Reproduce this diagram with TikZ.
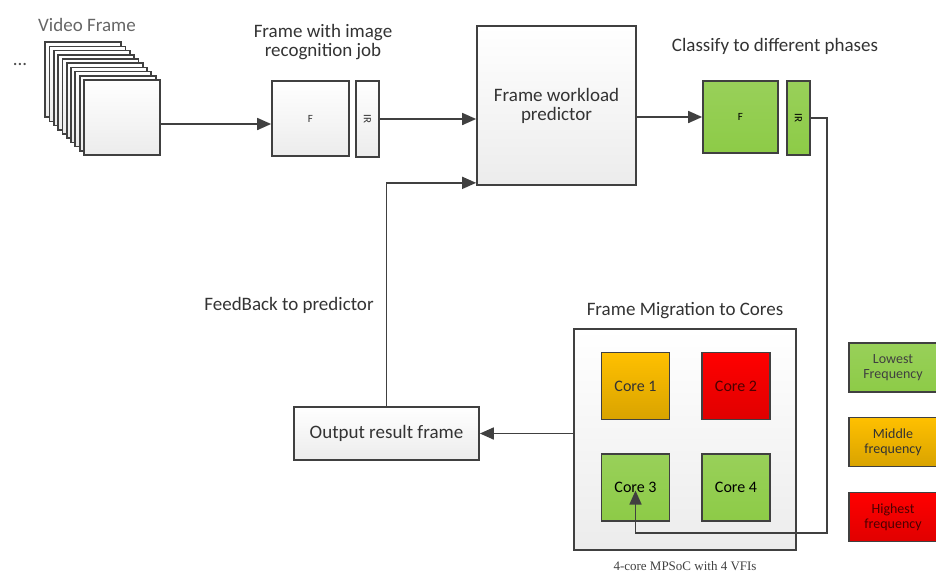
\documentclass[tikz,border=0pt]{standalone}
\usepackage{fontspec}
\setmainfont{Carlito}
\newfontfamily\capfont{Liberation Serif}
\usetikzlibrary{arrows.meta}

\definecolor{linegray}{HTML}{404040}
\definecolor{txtgray}{HTML}{333333}
\definecolor{lowgreen}{HTML}{8DCB47}
\definecolor{midorange}{HTML}{FFC000}
\definecolor{highred}{HTML}{FF0000}

\tikzset{
  box/.style={draw=linegray, line width=1.7pt, top color=white, bottom color=gray!15,
    inner sep=0pt, text=txtgray, align=center},
  frm/.style={box, minimum width=76pt, minimum height=75pt},
  greenbox/.style={box, top color=lowgreen!90, bottom color=lowgreen, text=black},
  orangebox/.style={box, top color=midorange, bottom color=midorange!85!black, text=black!80},
  redbox/.style={box, top color=highred, bottom color=highred!88!black, text=black!70!red},
  core/.style={minimum width=68pt, minimum height=67pt, font=\fontsize{16}{18}\selectfont},
  legend/.style={minimum width=88pt, minimum height=49pt, font=\fontsize{14}{15}\selectfont},
  title/.style={text=txtgray, font=\fontsize{19}{22}\selectfont, align=center},
  arr/.style={draw=linegray, line width=1.7pt, -{Triangle[length=14pt,width=12pt]}},
  ln/.style={draw=linegray, line width=1.7pt}
}

\begin{document}
\begin{tikzpicture}[x=1pt, y=-1pt]
  \useasboundingbox (0,0) rectangle (936,574);

  % input frames
  \node[title, text=black!60] (vtitle) at (87,25) {Video Frame};
  \node[title, text=black!70] (dots) at (20,64) {...};
  \foreach \i in {9,...,1}
    \node[frm] (frame\i) at ({122-4.33*\i},{117.5-4.2*\i}) {};
  \node[frm] (frame0) at (122,117.5) {};

  % frame with job
  \node[title] (jtitle) at (323,42) {Frame with image\\[-3pt]recognition job};
  \node[box, minimum width=77pt, minimum height=75pt, font=\fontsize{11}{12}\selectfont] (fbox) at (310.5,118.5) {F};
  \node[box, minimum width=23pt, minimum height=76pt, font=\fontsize{11}{12}\selectfont] (irbox) at (367.5,119) {\rotatebox{-90}{IR}};

  % predictor
  \node[box, title, minimum width=159pt, minimum height=159pt] (pred) at (556.5,105.5) {Frame workload\\[-3pt]predictor};

  % classified frame
  \node[title] (ctitle) at (775,46) {Classify to different phases};
  \node[greenbox, minimum width=75pt, minimum height=72pt, font=\fontsize{11}{12}\selectfont] (gf) at (740.5,117) {F};
  \node[greenbox, minimum width=23pt, minimum height=74pt, font=\fontsize{11}{12}\selectfont] (gir) at (798.5,118) {\rotatebox{-90}{IR}};

  % cores
  \node[title] (mtitle) at (685,311) {Frame Migration to Cores};
  \node[box, minimum width=222pt, minimum height=221pt] (soc) at (685,439.5) {};
  \node[orangebox, core] (core1) at (635.5,386) {Core 1};
  \node[redbox, core] (core2) at (736,386) {Core 2};
  \node[greenbox, core] (core3) at (635.5,487.5) {Core 3};
  \node[greenbox, core] (core4) at (736,487.5) {Core 4};
  \node[text=black!75, font=\capfont\fontsize{13}{14}\selectfont] (cap) at (685,566) {4-core MPSoC with 4 VFIs};

  % output
  \node[box, title, minimum width=185pt, minimum height=53pt] (out) at (386.5,433.5) {Output result frame};
  \node[title] (fbtitle) at (289,305) {FeedBack to predictor};

  % legend
  \node[greenbox, legend, text=black!75] (lg1) at (893,367.5) {Lowest\\Frequency};
  \node[orangebox, legend] (lg2) at (893,442) {Middle\\frequency};
  \node[redbox, legend] (lg3) at (893,517) {Highest\\frequency};

  % connectors
  \coordinate (turn) at (827,533);
  \draw[arr] (frame0.east |- 0,124) -- (fbox.west |- 0,124);
  \draw[arr] (irbox.east) -- (pred.west |- irbox.east);
  \draw[arr] (pred.east |- gf.west) -- (gf.west);
  \draw[arr] (gir.east) -| (turn) -| ([yshift=-3pt]core3.center);
  \draw[arr] (soc.west |- out.east) -- (out.east);
  \draw[arr] (out.north) |- ([yshift=3pt]pred.south west);
\end{tikzpicture}
\end{document}
